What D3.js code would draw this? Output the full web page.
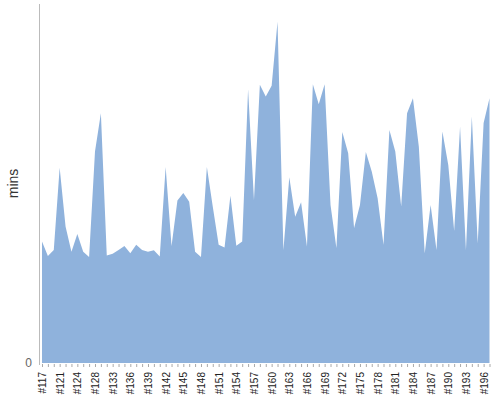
<!DOCTYPE html>
<html>
<head>
<meta charset="utf-8">
<script src="https://cdn.jsdelivr.net/npm/d3@7"></script>
<style>
  body { margin: 0; background: #fff; }
  svg { display: block; font-family: "Liberation Sans", Arial, sans-serif; }
</style>
</head>
<body>
<div id="chart"></div>
<script>
// run ids (every third one is labelled)
const runIds = [117, 119, 120, 121, 122, 123, 124, 126, 127, 128, 130, 131,
    133, 134, 135, 136, 137, 138, 139, 140, 141, 142, 143, 144, 145, 146, 147,
    148, 149, 150, 151, 152, 153, 154, 155, 156, 157, 158, 159, 160, 161, 162,
    163, 164, 165, 166, 167, 168, 169, 170, 171, 172, 173, 174, 175, 176, 177,
    178, 179, 180, 181, 182, 183, 184, 185, 186, 187, 188, 189, 190, 191, 192,
    193, 194, 195, 196, 197];

// duration in minutes
const minutes = [40.6, 35.8, 37.8, 65.3, 45.6, 37.2, 43.1, 37.2, 35.4, 70.7,
    83.5, 35.9, 36.5, 37.8, 39.1, 36.7, 39.5, 37.8, 37.2, 37.7,
    35.6, 65.5, 39.1, 54.3, 56.8, 53.9, 37.2, 35.4, 65.5, 52.3,
    39.5, 38.6, 55.9, 39.2, 40.6, 91.5, 54.5, 93.0, 89.1, 92.7,
    114.1, 37.8, 62.1, 48.9, 53.7, 38.9, 93.2, 86.5, 93.2, 52.8,
    38.4, 77.2, 70.1, 45.1, 52.8, 70.5, 64.0, 55.1, 39.5, 77.9,
    70.7, 52.3, 83.5, 88.5, 72.3, 36.7, 52.8, 37.8, 77.4, 66.2,
    44.2, 79.0, 37.8, 82.4, 40.0, 80.2, 88.5];

const yTicks = [0];

const labels = runIds.map(d => "#" + d);
const data = labels.map((l, i) => ({ label: l, value: minutes[i] }));

const margin = { top: 4, right: 10, bottom: 37, left: 39 };
const width = 500 - margin.left - margin.right;
const plotH = 359;   // baseline sits at y = 363

const svg = d3.select("#chart")
    .append("svg")
    .attr("width", 500)
    .attr("height", 400);

const g = svg.append("g")
    .attr("transform", `translate(${margin.left},${margin.top})`);

const x = d3.scalePoint()
    .domain(labels)
    .range([3, width - 0.5]);

const y = d3.scaleLinear()
    .domain([0, 120])
    .range([plotH, 0]);

// area
const area = d3.area()
    .x(d => x(d.label))
    .y0(y(0))
    .y1(d => y(d.value));

g.append("path")
    .datum(data)
    .attr("fill", "#8fb2dc")
    .attr("d", area);

// x axis
const xAxis = g.append("g")
    .attr("transform", `translate(0,${plotH + 1})`)
    .call(d3.axisBottom(x)
        .tickSize(3)
        .tickFormat((d, i) => i % 3 === 0 ? d : ""));

xAxis.select(".domain").remove();
xAxis.selectAll(".tick line").attr("stroke", "#aaa");
xAxis.selectAll(".tick text")
    .attr("transform", "rotate(-90)")
    .attr("x", -8)
    .attr("y", 0)
    .attr("dy", "0.35em")
    .style("text-anchor", "end")
    .style("font-size", "10px")
    .attr("fill", "#222");

// y axis
const yAxis = g.append("g")
    .call(d3.axisLeft(y).tickValues(yTicks).tickSize(0).tickPadding(7));

yAxis.select(".domain")
    .attr("stroke", "#bbb")
    .attr("d", `M0.5,0V${plotH + 2}`);
yAxis.selectAll(".tick text")
    .style("font-size", "12px")
    .attr("fill", "#666");

// y label
svg.append("text")
    .attr("transform", `translate(18,${margin.top + plotH / 2}) rotate(-90)`)
    .attr("text-anchor", "middle")
    .style("font-size", "14px")
    .attr("fill", "#333")
    .text("mins");
</script>
</body>
</html>
